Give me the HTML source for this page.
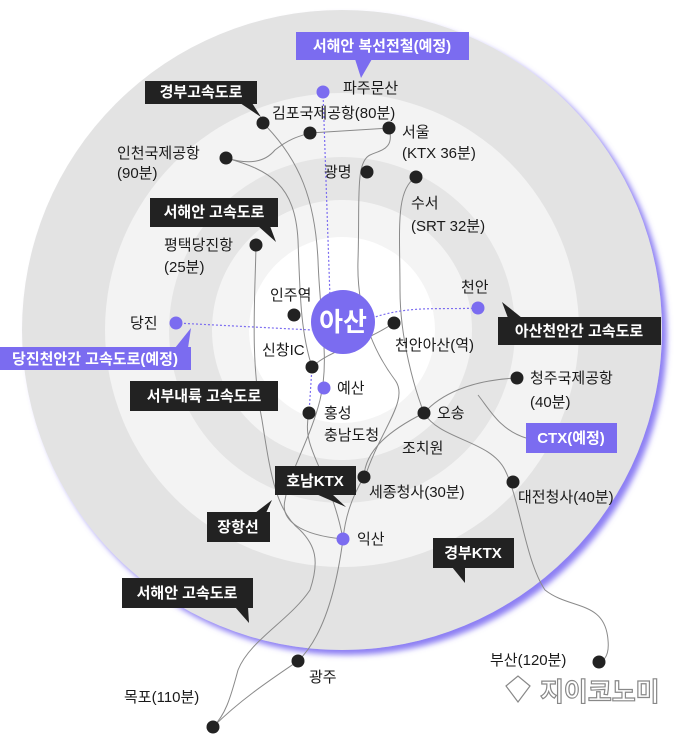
<!DOCTYPE html>
<html><head><meta charset="utf-8"><style>
html,body{margin:0;padding:0;background:#fff;}
svg{display:block;}
text{font-family:"Liberation Sans","Noto Sans CJK KR",sans-serif;}
.l{font-size:15px;fill:#1a1a1a;}
.b{font-size:15px;fill:#fff;font-weight:bold;}
</style></head><body>
<svg width="680" height="734" viewBox="0 0 680 734" xmlns="http://www.w3.org/2000/svg">
<defs><filter id="sh" x="-10%" y="-10%" width="125%" height="125%"><feDropShadow dx="5" dy="5" stdDeviation="3" flood-color="#6f5ff0" flood-opacity="0.8"/></filter></defs>
<circle cx="342" cy="330" r="320" fill="#e3e3e3" filter="url(#sh)"/>
<circle cx="342" cy="330" r="237" fill="#f3f3f3"/>
<circle cx="342" cy="330" r="173" fill="#e5e5e5"/>
<circle cx="342" cy="330" r="130" fill="#f4f4f4"/>
<circle cx="342" cy="330" r="93" fill="#fff"/>
<g fill="none" stroke="#8a8a8a" stroke-width="1">
<path d="M310,133 L389,128"/>
<path d="M226,158 C250,165 265,162 275,150 C290,138 300,136 310,133"/>
<path d="M263,123 C300,160 315,200 318,260 C320,320 330,360 320,400 C310,440 290,470 285,500 C280,520 300,535 343,539"/>
<path d="M226,158 C270,170 295,185 298,240 C300,290 300,330 312,367"/>
<path d="M389,128 C395,150 380,150 370,155 C355,162 360,200 358,260 C356,320 380,360 395,380 C410,400 380,430 365,477"/>
<path d="M416,177 C395,190 400,230 400,290 C400,340 415,390 424,413 C440,440 490,440 505,470 C520,500 525,560 545,590 C570,610 605,600 608,640 C610,660 600,662 599,662"/>
<path d="M517,378 C470,380 440,395 424,413"/>
<path d="M478,395 C490,410 500,430 526,438"/>
<path d="M256,245 C255,300 250,360 262,420 C270,470 275,510 300,530 C315,545 320,560 310,590 C290,620 250,640 238,670 C230,700 225,715 213,727"/>
<path d="M312,367 C330,350 360,345 394,323"/>
<path d="M309,413 C300,450 330,470 343,539 C335,600 320,640 298,661 C270,680 240,700 213,727"/>
<path d="M424,413 C390,430 365,450 364,477 C350,500 345,520 343,539"/>
</g>
<g fill="none" stroke="#7b6cf0" stroke-width="1.2" stroke-dasharray="2,2">
<path d="M323,92 L330,298"/>
<path d="M176,323 L312,330"/>
<path d="M372,318 C410,305 440,310 478,308"/>
<path d="M312,367 L309,413"/>
</g>
<circle cx="343" cy="322" r="32" fill="#7b6cf0"/>
<text x="343" y="331" text-anchor="middle" font-size="26" font-weight="bold" fill="#fff">아산</text>
<g fill="#222">
<circle cx="263" cy="123" r="6.5"/><circle cx="310" cy="133" r="6.5"/><circle cx="389" cy="128" r="6.5"/>
<circle cx="226" cy="158" r="6.5"/><circle cx="367" cy="172" r="6.5"/><circle cx="416" cy="177" r="6.5"/>
<circle cx="256" cy="245" r="6.5"/><circle cx="294" cy="315" r="6.5"/><circle cx="394" cy="323" r="6.5"/>
<circle cx="312" cy="367" r="6.5"/><circle cx="309" cy="413" r="6.5"/><circle cx="424" cy="413" r="6.5"/>
<circle cx="517" cy="378" r="6.5"/><circle cx="364" cy="477" r="6.5"/><circle cx="513" cy="482" r="6.5"/>
<circle cx="298" cy="661" r="6.5"/><circle cx="599" cy="662" r="6.5"/><circle cx="213" cy="727" r="6.5"/>
</g>
<g fill="#7b6cf0">
<circle cx="323" cy="92" r="6.5"/><circle cx="478" cy="308" r="6.5"/><circle cx="176" cy="323" r="6.5"/>
<circle cx="324" cy="388" r="6.5"/><circle cx="343" cy="539" r="6.5"/>
</g>
<g class="l">
<text x="343" y="93">파주문산</text>
<text x="272" y="118">김포국제공항(80분)</text>
<text x="402" y="137">서울</text><text x="402" y="158">(KTX 36분)</text>
<text x="117" y="158">인천국제공항</text><text x="117" y="178">(90분)</text>
<text x="324" y="177">광명</text>
<text x="411" y="208">수서</text><text x="411" y="231">(SRT 32분)</text>
<text x="164" y="250">평택당진항</text><text x="164" y="272">(25분)</text>
<text x="270" y="300">인주역</text>
<text x="461" y="292">천안</text>
<text x="130" y="328">당진</text>
<text x="395" y="350">천안아산(역)</text>
<text x="262" y="355">신창IC</text>
<text x="337" y="393">예산</text>
<text x="324" y="418">홍성</text><text x="324" y="440">충남도청</text>
<text x="437" y="418">오송</text>
<text x="530" y="383">청주국제공항</text><text x="530" y="407">(40분)</text>
<text x="402" y="453">조치원</text>
<text x="369" y="497">세종청사(30분)</text>
<text x="518" y="502">대전청사(40분)</text>
<text x="357" y="544">익산</text>
<text x="309" y="682">광주</text>
<text x="124" y="702">목포(110분)</text>
<text x="490" y="665">부산(120분)</text>
</g>
<g>
<rect x="296" y="32" width="173" height="28" fill="#7b6cf0"/><path d="M355,59 L361,78 L372,59Z" fill="#7b6cf0"/>
<text class="b" x="382" y="51" text-anchor="middle">서해안 복선전철(예정)</text>
<rect x="145" y="81" width="112" height="23" fill="#222"/><path d="M240,103 L261,117 L252,103Z" fill="#222"/>
<text class="b" x="201" y="97" text-anchor="middle">경부고속도로</text>
<rect x="150" y="198" width="128" height="29" fill="#222"/><path d="M258,226 L276,242 L270,226Z" fill="#222"/>
<text class="b" x="214" y="217" text-anchor="middle">서해안 고속도로</text>
<rect x="498" y="317" width="163" height="28" fill="#222"/><path d="M502,302 L508,318 L522,318Z" fill="#222"/>
<text class="b" x="579" y="336" text-anchor="middle">아산천안간 고속도로</text>
<rect x="0" y="347" width="191" height="23" fill="#7b6cf0"/><path d="M191,328 L175,348 L188,348Z" fill="#7b6cf0"/>
<text class="b" x="95" y="364" text-anchor="middle">당진천안간 고속도로(예정)</text>
<rect x="130" y="381" width="148" height="30" fill="#222"/>
<text class="b" x="204" y="401" text-anchor="middle">서부내륙 고속도로</text>
<rect x="275" y="466" width="81" height="29" fill="#222"/><path d="M316,494 L346,507 L332,494Z" fill="#222"/>
<text class="b" x="315" y="486" text-anchor="middle">호남KTX</text>
<rect x="207" y="512" width="63" height="30" fill="#222"/><path d="M255,513 L272,500 L266,513Z" fill="#222"/>
<text class="b" x="238" y="532" text-anchor="middle">장항선</text>
<rect x="526" y="423" width="91" height="30" fill="#7b6cf0"/>
<text class="b" x="571" y="443" text-anchor="middle">CTX(예정)</text>
<rect x="433" y="538" width="81" height="30" fill="#222"/><path d="M452,567 L465,583 L465,567Z" fill="#222"/>
<text class="b" x="473" y="558" text-anchor="middle">경부KTX</text>
<rect x="122" y="578" width="131" height="30" fill="#222"/><path d="M235,607 L249,623 L248,607Z" fill="#222"/>
<text class="b" x="187" y="598" text-anchor="middle">서해안 고속도로</text>
</g>
<text x="540" y="701" font-size="26" font-weight="bold" fill="#fff" stroke="#888" stroke-width="1.2">지이코노미</text>
<path d="M506,686 L518,676 L530,686 L518,702 Z" fill="#fff" stroke="#888" stroke-width="1.2"/>
</svg>
</body></html>
